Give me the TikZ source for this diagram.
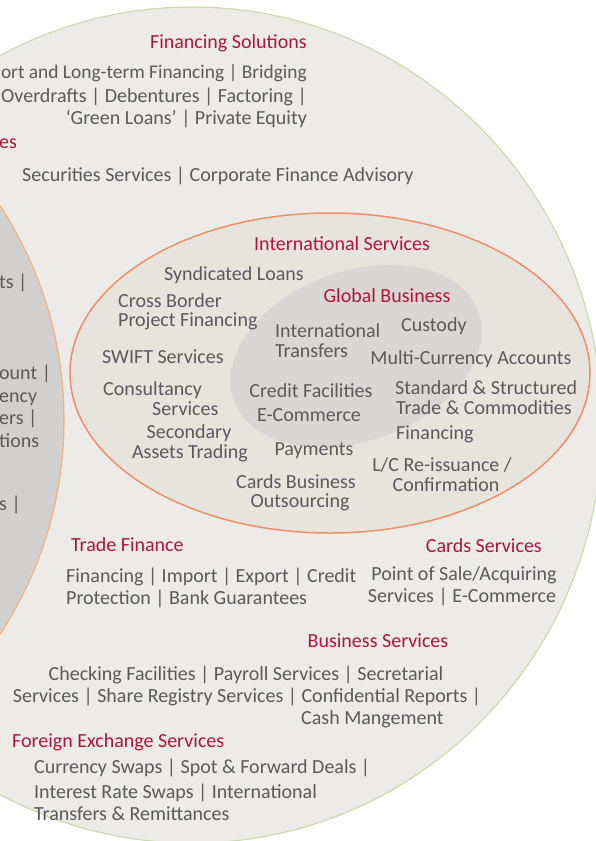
\documentclass[tikz,border=0pt]{standalone}
\usepackage{fontspec}
\setmainfont{Carlito}
\begin{document}
\definecolor{outerfill}{HTML}{EDEBE7}
\definecolor{outerline}{HTML}{CADBAE}
\definecolor{intlfill}{HTML}{E7E4DE}
\definecolor{intlline}{HTML}{EE8E66}
\definecolor{globalfill}{HTML}{D8D7D4}
\definecolor{leftfill}{HTML}{D1D0CE}
\definecolor{leftline}{HTML}{F4B17F}
\definecolor{titlered}{HTML}{AE1539}
\definecolor{bodygray}{HTML}{5A5A5C}
\begin{tikzpicture}[x=1pt,y=-1pt,
  lbl/.style={inner sep=0pt,yshift=-5pt,font=\fontsize{20}{24}\selectfont},
  ttl/.style={lbl,text=titlered},
  txt/.style={lbl,text=bodygray}]
\useasboundingbox (0,0) rectangle (596,841);
\clip (0,0) rectangle (596,841);
% outer service circle
\fill[outerfill] (192,425) ellipse [x radius=410pt, y radius=418pt];
\draw[outerline,line width=1.2pt] (192,425) ellipse [x radius=410pt, y radius=418pt];
% left grey circle
\fill[leftfill] (-326,420) circle [radius=390pt];
\draw[leftline,line width=1.2pt] (-326,420) circle [radius=390pt];
% international services ellipse
\fill[intlfill] (330,373) ellipse [x radius=260pt, y radius=160pt];
\draw[intlline,line width=1.5pt] (330,373) ellipse [x radius=260pt, y radius=160pt];
% global business ellipse
\fill[globalfill, rotate around={20:(356,356)}] (356,356) ellipse [x radius=130pt, y radius=85pt];

% section titles
\node[ttl,anchor=mid east] (tFin) at (307,41) {Financing Solutions};
\node[ttl,anchor=mid west] (tLeft) at (-1,141) {es};
\node[ttl,anchor=mid] (tIntl) at (342,243) {International Services};
\node[ttl,anchor=mid] (tGlob) at (387,295) {Global Business};
\node[ttl,anchor=mid west] (tTrade) at (71,544) {Trade Finance};
\node[ttl,anchor=mid east] (tCards) at (542,545) {Cards Services};
\node[ttl,anchor=mid] (tBus) at (378,640) {Business Services};
\node[ttl,anchor=mid west] (tFx) at (12,740) {Foreign Exchange Services};

% financing solutions
\node[txt,anchor=mid east,font=\fontsize{19.4}{24}\selectfont] (f1) at (307,71) {ort and Long-term Financing | Bridging};
\node[txt,anchor=mid east] (f2) at (307,95) {Overdrafts | Debentures | Factoring |};
\node[txt,anchor=mid east] (f3) at (307,117) {‘Green Loans’ | Private Equity};
\node[txt,anchor=mid west] (s1) at (22,174) {Securities Services | Corporate Finance Advisory};

% left circle fragments
\node[txt,anchor=mid west] (l1) at (-1,281) {ts |};
\node[txt,anchor=mid west] (l2) at (-1,372) {ount |};
\node[txt,anchor=mid west] (l3) at (-1,395) {ency};
\node[txt,anchor=mid west] (l4) at (-1,417) {ers |};
\node[txt,anchor=mid west] (l5) at (-1,440) {tions};
\node[txt,anchor=mid west] (l6) at (-1,503) {s |};

% international services
\node[txt,anchor=mid] (i1) at (234,273) {Syndicated Loans};
\node[txt,anchor=mid west] (i2) at (118,300) {Cross Border};
\node[txt,anchor=mid west] (i3) at (118,319) {Project Financing};
\node[txt,anchor=mid west] (i4) at (102,356) {SWIFT Services};
\node[txt,anchor=mid west] (i5) at (103,388) {Consultancy};
\node[txt,anchor=mid west] (i6) at (152,408) {Services};
\node[txt,anchor=mid] (i7) at (189,431) {Secondary};
\node[txt,anchor=mid] (i8) at (190,451) {Assets Trading};
\node[txt,anchor=mid] (i9) at (296,481) {Cards Business};
\node[txt,anchor=mid] (i10) at (300,500) {Outsourcing};
\node[txt,anchor=mid] (i11) at (442,464) {L/C Re-issuance /};
\node[txt,anchor=mid] (i12) at (446,484) {Confirmation};
\node[txt,anchor=mid west] (i13) at (395,387) {Standard \& Structured};
\node[txt,anchor=mid west] (i14) at (396,407) {Trade \& Commodities};
\node[txt,anchor=mid west] (i15) at (396,432) {Financing};
\node[txt,anchor=mid] (i16) at (471,357) {Multi-Currency Accounts};

% global business
\node[txt,anchor=mid west] (g1) at (275,330) {International};
\node[txt,anchor=mid west] (g2) at (275,350) {Transfers};
\node[txt,anchor=mid west] (g3) at (401,324) {Custody};
\node[txt,anchor=mid] (g4) at (311,390) {Credit Facilities};
\node[txt,anchor=mid] (g5) at (309,414) {E-Commerce};
\node[txt,anchor=mid] (g6) at (314,448) {Payments};

% trade finance
\node[txt,anchor=mid west] (tr1) at (66,575) {Financing | Import | Export | Credit};
\node[txt,anchor=mid west] (tr2) at (66,597) {Protection | Bank Guarantees};

% cards services
\node[txt,anchor=mid] (cs1) at (464,573) {Point of Sale/Acquiring};
\node[txt,anchor=mid] (cs2) at (462,595) {Services | E-Commerce};

% business services
\node[txt,anchor=mid] (b1) at (246,673) {Checking Facilities | Payroll Services | Secretarial};
\node[txt,anchor=mid] (b2) at (247,695) {Services | Share Registry Services | Confidential Reports |};
\node[txt,anchor=mid west] (b3) at (301,717) {Cash Mangement};

% foreign exchange services
\node[txt,anchor=mid west] (fx1) at (34,766) {Currency Swaps | Spot \& Forward Deals |};
\node[txt,anchor=mid west] (fx2) at (34,791) {Interest Rate Swaps | International};
\node[txt,anchor=mid west] (fx3) at (34,813) {Transfers \& Remittances};
\end{tikzpicture}
\end{document}
